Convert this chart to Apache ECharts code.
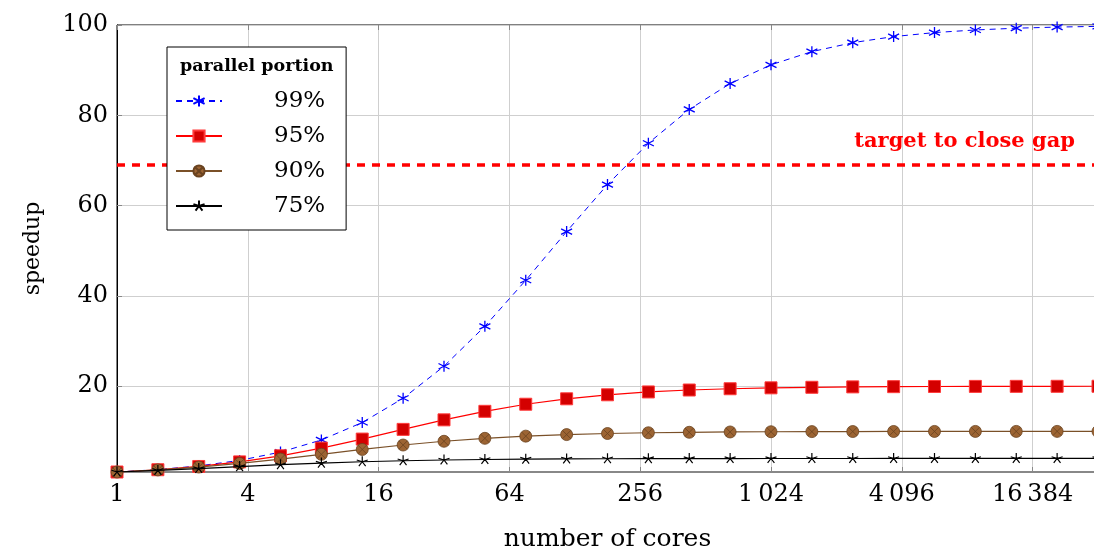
<!DOCTYPE html>
<html>
<head>
<meta charset="utf-8">
<script src="https://cdn.jsdelivr.net/npm/echarts@6/dist/echarts.min.js"></script>
<style>
html,body{margin:0;padding:0;background:#fff;}
#c{width:1094px;height:550px;}
</style>
</head>
<body>
<div id="c"></div>
<script>
// number of cores (2^(0.625k), k = 0..24)
const cores = [1, 1.5422, 2.3784, 3.6680, 5.6569, 8.7241, 13.454, 20.749, 32, 49.351, 76.109, 117.38,
  181.02, 279.17, 430.54, 663.98, 1024, 1579.2, 2435.5, 3756.1, 5792.6, 8933.4, 13777, 21247, 32768];
const seriesNames = ['99%', '95%', '90%', '75%'];
const speedup99 = [1, 1.534, 2.346, 3.573, 5.405, 8.098, 11.96, 17.33, 24.43, 33.27, 43.46, 54.25,
  64.65, 73.82, 81.30, 87.02, 91.18, 94.10, 96.09, 97.43, 98.32, 98.90, 99.29, 99.54, 99.70];
const speedup95 = [1, 1.502, 2.225, 3.236, 4.589, 6.294, 8.291, 10.44, 12.55, 14.44, 16.01, 17.21,
  18.10, 18.73, 19.16, 19.44, 19.64, 19.76, 19.85, 19.90, 19.94, 19.96, 19.97, 19.98, 19.99];
const speedup90 = [1, 1.463, 2.090, 2.896, 3.860, 4.922, 5.992, 6.975, 7.805, 8.458, 8.943, 9.288,
  9.526, 9.688, 9.795, 9.866, 9.913, 9.943, 9.963, 9.976, 9.985, 9.990, 9.994, 9.996, 9.997];
const speedup75 = [1, 1.358, 1.769, 2.200, 2.614, 2.977, 3.271, 3.495, 3.657, 3.771, 3.848, 3.900,
  3.935, 3.958, 3.972, 3.982, 3.988, 3.992, 3.995, 3.997, 3.998, 3.999, 3.999, 3.999, 4.000];
const yTicks = [20, 40, 60, 80, 100];
const targetValue = 69;
const targetLabel = 'target to close gap';
const xName = 'number of cores';
const yName = 'speedup';
const legendTitle = 'parallel portion';

const FONT = '"DejaVu Serif", "Liberation Serif", serif';
const pair = (ys) => cores.map((x, i) => [x, ys[i]]);

const asterisk = 'path://M0,-1L0,1M-0.866,-0.5L0.866,0.5M-0.866,0.5L0.866,-0.5';
const star5 = 'path://M0,1M0,0L0,-1M0,0L0.951,-0.309M0,0L-0.951,-0.309M0,0L-0.588,0.809M0,0L0.588,0.809';
const otimes = 'path://M1,0A1,1,0,1,1,-1,0A1,1,0,1,1,1,0ZM-0.707,-0.707L0.707,0.707M-0.707,0.707L0.707,-0.707';

function fmtX(v) {
  const n = Math.round(v);
  return String(n).replace(/\B(?=(\d{3})+(?!\d))/g, '\u2009');
}

const chart = echarts.init(document.getElementById('c'), null, {renderer: 'canvas'});
chart.setOption({
  animation: false,
  backgroundColor: '#fff',
  textStyle: {fontFamily: FONT},
  grid: {left: 117, top: 25, width: 981, bottom: 78, outerBoundsMode: 'none', containLabel: false,
    show: true, borderColor: '#000', borderWidth: 1, backgroundColor: 'transparent'},
  xAxis: [{
    type: 'log', logBase: 4, min: 1, max: 32768, interval: 1,
    name: xName, nameLocation: 'middle', nameGap: 55,
    nameTextStyle: {fontFamily: FONT, fontSize: 25, color: '#000'},
    axisLine: {show: true, lineStyle: {color: '#888', width: 2}},
    axisTick: {show: true, inside: true, length: 5, lineStyle: {color: '#888'}},
    minorTick: {show: false},
    axisLabel: {fontFamily: FONT, fontSize: 24, color: '#000', margin: 11, formatter: fmtX, showMaxLabel: false},
    splitLine: {show: true, lineStyle: {color: '#cfcfcf', width: 1}}
  }, {
    type: 'log', logBase: 4, min: 1, max: 32768, interval: 1, position: 'top',
    axisLine: {show: false},
    axisTick: {show: true, inside: true, length: 5, lineStyle: {color: '#888'}},
    axisLabel: {show: false},
    splitLine: {show: false}
  }],
  yAxis: {
    type: 'value', min: 1, max: 100,
    name: yName, nameLocation: 'middle', nameGap: 73, nameRotate: 90,
    nameTextStyle: {fontFamily: FONT, fontSize: 22, color: '#000'},
    axisLine: {show: true, lineStyle: {color: '#000', width: 1}},
    axisTick: {show: true, inside: true, length: 5, customValues: yTicks, lineStyle: {color: '#888'}},
    axisLabel: {fontFamily: FONT, fontSize: 24, color: '#000', margin: 9, customValues: yTicks},
    splitLine: {show: true, lineStyle: {color: '#cfcfcf', width: 1}}
  },
  legend: {
    data: seriesNames,
    orient: 'vertical', left: 167, top: 47,
    itemWidth: 46, itemHeight: 14, itemGap: 5,
    padding: [39, 21, 9, 8],
    backgroundColor: '#fff', borderColor: '#000', borderWidth: 1, borderRadius: 0,
    textStyle: {fontFamily: FONT, fontSize: 23, lineHeight: 30, color: '#000', padding: [0, 0, 0, 47]},
    selectedMode: false,
    z: 20
  },
  graphic: [{
    type: 'text', left: 180, top: 57, z: 100,
    style: {text: legendTitle, fontFamily: FONT, fontSize: 17.5, fontWeight: 'bold', fill: '#000'}
  }],
  series: [
    {
      name: seriesNames[0], type: 'line', data: pair(speedup99),
      symbol: asterisk, symbolSize: 11,
      lineStyle: {color: '#0000ff', width: 1, type: [6, 5]},
      itemStyle: {color: '#0000ff', borderColor: '#0000ff', borderWidth: 1.3},
      z: 3
    },
    {
      name: seriesNames[1], type: 'line', data: pair(speedup95),
      symbol: 'rect', symbolSize: 12,
      lineStyle: {color: '#ff0000', width: 1.2},
      itemStyle: {color: '#d40000', borderColor: '#ff3b3b', borderWidth: 1},
      z: 4
    },
    {
      name: seriesNames[2], type: 'line', data: pair(speedup90),
      symbol: otimes, symbolSize: 12,
      lineStyle: {color: '#7a5028', width: 1.2},
      itemStyle: {color: '#9c6433', borderColor: '#6a4320', borderWidth: 0.8},
      z: 5
    },
    {
      name: seriesNames[3], type: 'line', data: pair(speedup75),
      symbol: star5, symbolSize: 11,
      lineStyle: {color: '#000', width: 1.2},
      itemStyle: {color: '#000', borderColor: '#000', borderWidth: 1.2},
      z: 6
    },
    {
      name: 'target', type: 'line', data: [],
      markLine: {
        silent: true, symbol: 'none',
        lineStyle: {color: '#ff0000', width: 3.5, type: [8, 7]},
        label: {
          show: true, position: 'insideEndTop', distance: [23, 13],
          formatter: targetLabel, color: '#ff0000', fontFamily: FONT, fontSize: 21, fontWeight: 'bold'
        },
        data: [{yAxis: targetValue}]
      },
      z: 2
    }
  ]
});
</script>
</body>
</html>
